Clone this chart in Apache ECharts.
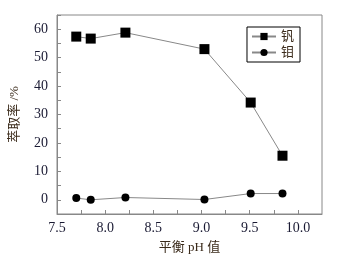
<!DOCTYPE html>
<html><head><meta charset="utf-8">
<script src="https://cdn.jsdelivr.net/npm/echarts@6/dist/echarts.min.js"></script>
<style>html,body{margin:0;padding:0;background:#fff}#c{width:339px;height:262px}</style>
</head><body><div id="c"></div>
<script>
const phValues = [7.70, 7.85, 8.21, 9.03, 9.51, 9.84];
const vanadium = [57.4, 56.7, 58.8, 53.0, 34.2, 15.5];
const molybdenum = [0.6, 0.0, 0.8, 0.1, 2.2, 2.2];
const seriesNames = ['钒', '钼'];
const xName = '平衡 pH 值';
const yName = '萃取率 /%';

const font = '"Liberation Serif", "Noto Sans CJK SC", serif';
const txt = '#1a1a33';
const chart = echarts.init(document.getElementById('c'));
chart.setOption({
  animation: false,
  grid: {left: 55, right: 17, top: 15, bottom: 48, show: true, borderColor: '#888', borderWidth: 1},
  legend: {
    right: 39, top: 27, orient: 'vertical', itemGap: 3, itemWidth: 24, itemHeight: 9,
    borderColor: '#000', borderWidth: 1, padding: [3, 6, 3, 4], borderRadius: 0,
    textStyle: {fontFamily: font, fontSize: 13, color: '#3a2a1a'},
    data: seriesNames
  },
  xAxis: {
    type: 'value', min: 7.5, max: 10.25, interval: 0.25,
    name: xName, nameLocation: 'middle', nameGap: 27,
    nameTextStyle: {fontFamily: font, fontSize: 13, color: '#3a2a1a'},
    axisLine: {onZero: false, lineStyle: {color: '#888'}},
    axisTick: {inside: true, length: 4, lineStyle: {color: '#888'}},
    splitLine: {show: false},
    axisLabel: {fontFamily: font, fontSize: 14, color: txt, margin: 7, showMaxLabel: false,
      formatter: v => (Math.abs(v * 2 - Math.round(v * 2)) < 1e-6 && v <= 10.0001) ? v.toFixed(1) : ''}
  },
  yAxis: {
    type: 'value', min: -5, max: 65, interval: 5,
    name: yName, nameLocation: 'middle', nameGap: 36,
    nameTextStyle: {fontFamily: font, fontSize: 13, color: '#3a2a1a'},
    axisLine: {show: true, onZero: false, lineStyle: {color: '#888'}},
    axisTick: {inside: true, length: 4, lineStyle: {color: '#888'}},
    splitLine: {show: false},
    axisLabel: {fontFamily: font, fontSize: 14, color: txt, margin: 9,
      formatter: v => (v >= 0 && v % 10 === 0) ? String(v) : ''}
  },
  series: [
    {name: seriesNames[0], type: 'line', data: phValues.map((x, i) => [x, vanadium[i]]),
     symbol: 'rect', symbolSize: 10, itemStyle: {color: '#000'},
     lineStyle: {color: '#888', width: 1}},
    {name: seriesNames[1], type: 'line', data: phValues.map((x, i) => [x, molybdenum[i]]),
     symbol: 'circle', symbolSize: 8, itemStyle: {color: '#000'},
     lineStyle: {color: '#888', width: 1}}
  ]
});
</script></body></html>
